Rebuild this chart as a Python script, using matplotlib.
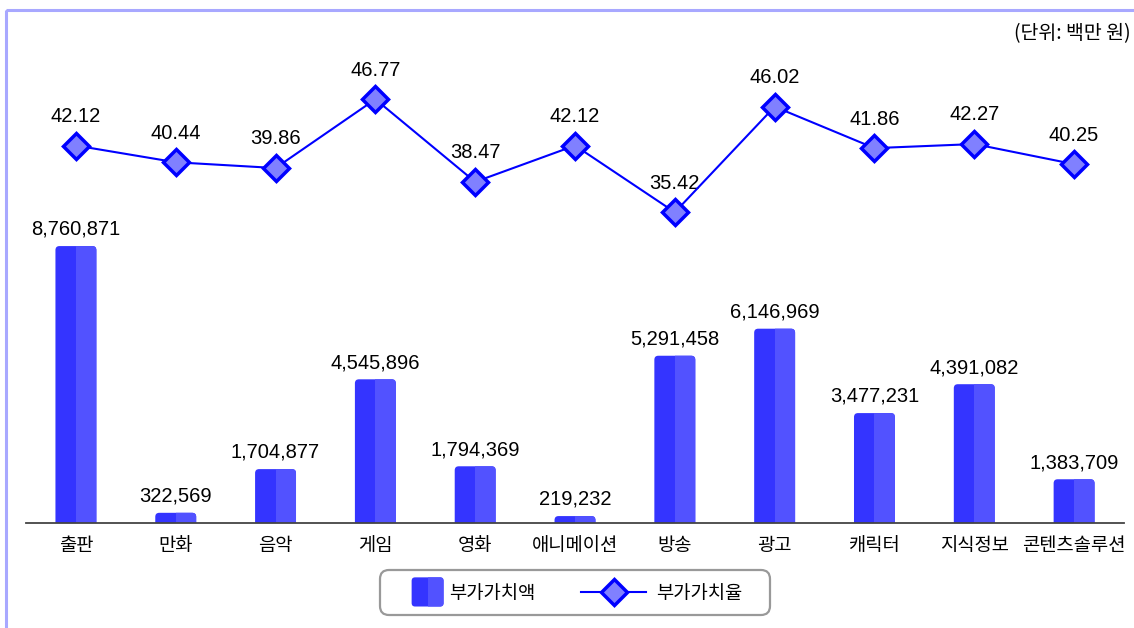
import matplotlib
matplotlib.use('Agg')
import matplotlib.pyplot as plt
from matplotlib.patches import FancyBboxPatch, Rectangle
from matplotlib.lines import Line2D

# 데이터
categories = ['출판', '만화', '음악', '게임', '영화', '애니메이션', '방송', '광고',
              '캐릭터', '지식정보', '콘텐츠솔루션']
value_added = [8760871, 322569, 1704877, 4545896, 1794369, 219232, 5291458,
               6146969, 3477231, 4391082, 1383709]
value_rate = [42.12, 40.44, 39.86, 46.77, 38.47, 42.12, 35.42, 46.02, 41.86,
              42.27, 40.25]

KR = ['Noto Sans CJK KR', 'DejaVu Sans']
NUM = ['Liberation Sans', 'Noto Sans CJK KR']

DARK = '#3434FF'
LIGHT = '#5252FF'
LINE = '#0000FF'
FACE = '#8080FF'

W, H = 1134, 628
fig = plt.figure(figsize=(W / 100, H / 100), dpi=100)

# 축 위치 (픽셀)
left, right, base, top = 26, 1124, 523, 40
ax = fig.add_axes([left / W, 1 - base / H, (right - left) / W, (base - top) / H])
ax.set_xlim(-0.5, len(categories) - 0.5)
ax.set_ylim(0, 15.28e6)

# 둥근 모서리용 비율
px_x = (len(categories)) / (right - left)
px_y = 15.28e6 / (base - top)
aspect = px_y / px_x
r = 4 * px_x
bw = 0.41

for i, v in enumerate(value_added):
    x0 = i - bw / 2
    y0 = -r * aspect * 2
    dark = FancyBboxPatch((x0, y0), bw, v - y0,
                          boxstyle=f'round,pad=0,rounding_size={r}',
                          mutation_aspect=aspect, fc=DARK, ec='none', zorder=2)
    ax.add_patch(dark)
    light = FancyBboxPatch((x0, y0), bw, v - y0,
                           boxstyle=f'round,pad=0,rounding_size={r}',
                           mutation_aspect=aspect, fc=LIGHT, ec='none', zorder=3)
    ax.add_patch(light)
    light.set_clip_path(Rectangle((i, 0), bw, v * 1.1 + 1e6, transform=ax.transData))
    ax.annotate(f'{v:,}', (i, v), xytext=(0, 8), textcoords='offset points',
                ha='center', va='baseline', fontsize=14.5, family=NUM)

for s in ['top', 'right', 'left']:
    ax.spines[s].set_visible(False)
ax.spines['bottom'].set_color('#444444')
ax.spines['bottom'].set_linewidth(1.3)
ax.spines['bottom'].set_zorder(5)
ax.set_yticks([])
ax.set_xticks(range(len(categories)))
ax.set_xticklabels(categories, family=KR, fontsize=13.5)
ax.tick_params(axis='x', length=0, pad=9)
ax.patch.set_visible(False)

# 꺾은선 (부가가치율)
ax2 = ax.twinx()
ax2.set_ylim(4.21, 52.72)
ax2.set_axis_off()
ax2.plot(range(len(value_rate)), value_rate, color=LINE, lw=1.5, marker='D',
         ms=13, mfc=FACE, mec=LINE, mew=2.5, zorder=4)
for i, v in enumerate(value_rate):
    ax2.annotate(f'{v:.2f}', (i, v), xytext=(0, 17), textcoords='offset points',
                 ha='center', va='baseline', fontsize=14.5, family=NUM)

# 단위
fig.text(1131 / W, 1 - 34 / H, '(단위: 백만 원)', ha='right', va='center',
         fontsize=14, family=KR)

# 범례
class BarHandler:
    def legend_artist(self, legend, orig_handle, fontsize, handlebox):
        x0, y0 = -handlebox.xdescent, -handlebox.ydescent
        h = handlebox.height
        sw, sh = 23, 21
        cy = y0 + h / 2
        sq = FancyBboxPatch((x0, cy - sh / 2), sw, sh,
                            boxstyle='round,pad=0,rounding_size=2.5',
                            fc=DARK, ec='none')
        handlebox.add_artist(sq)
        sq2 = FancyBboxPatch((x0, cy - sh / 2), sw, sh,
                             boxstyle='round,pad=0,rounding_size=2.5',
                             fc=LIGHT, ec='none')
        handlebox.add_artist(sq2)
        clip = Rectangle((x0 + sw / 2, cy - sh), sw, sh * 2)
        clip.set_transform(handlebox.get_transform())
        sq2.set_clip_path(clip)
        return sq


class LineHandler:
    def legend_artist(self, legend, orig_handle, fontsize, handlebox):
        x0, y0 = -handlebox.xdescent, -handlebox.ydescent
        h = handlebox.height
        cy = y0 + h / 2
        ln = Line2D([x0 - 26.5, x0 + 20], [cy, cy], color=LINE, lw=1.5)
        mk = Line2D([x0 - 3.2], [cy], marker='D', ms=13, mfc=FACE, mec=LINE,
                    mew=2.5, lw=0)
        handlebox.add_artist(ln)
        handlebox.add_artist(mk)
        return ln


bar_key = Rectangle((0, 0), 1, 1)
line_key = Line2D([], [])
fig.legend([bar_key, line_key], ['부가가치액', '부가가치율'],
           handler_map={Rectangle: BarHandler(), Line2D: LineHandler()},
           loc='center', bbox_to_anchor=(577 / W, 1 - 593 / H),
           ncol=2, frameon=False, prop={'family': KR, 'size': 13.5},
           handlelength=1.7, handletextpad=0.32, columnspacing=4.4)

frame = FancyBboxPatch((380 / W, 1 - 615 / H), 390 / W, 45 / H,
                       boxstyle=f'round,pad=0,rounding_size={9 / W}',
                       mutation_aspect=W / H, transform=fig.transFigure,
                       fc='none', ec='#999999', lw=1.6)
fig.add_artist(frame)

# 바깥 테두리
border = Rectangle((5.5 / W, 1 - 10 / H), 1.2, -1.2, transform=fig.transFigure,
                   fc='none', ec='#A8A8FF', lw=2.2, clip_on=False)
fig.add_artist(border)

fig.savefig('out.png', dpi=100)
